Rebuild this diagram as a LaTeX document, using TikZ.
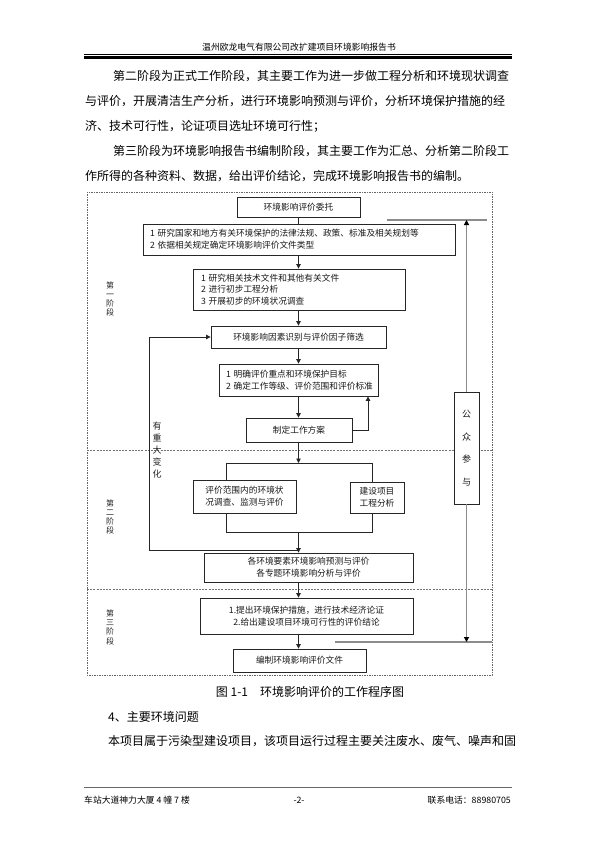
\documentclass[tikz,border=0pt]{standalone}
\usepackage{fontspec}
\setmainfont{Noto Sans CJK SC}
\usetikzlibrary{arrows.meta,shadows}
\newcommand{\fsz}[2]{\fontsize{#1}{#2}\selectfont}
\begin{document}
\begin{tikzpicture}[x=1pt,y=-1pt,
  bx/.style={draw=black!85,line width=0.8pt,fill=white,inner sep=0pt,font=\fsz{8.7}{11.8},text=black!90,
    drop shadow={shadow xshift=0.8pt,shadow yshift=-0.8pt,fill=black!40,opacity=1}},
  body/.style={anchor=west,inner sep=0pt,font=\fsz{12}{14}},
  conn/.style={draw=black!85,line width=0.8pt},
  arr/.style={conn,-{Triangle[length=4.5pt,width=4.5pt]}},
  publine/.style={draw=black!45,line width=1.3pt},
  pubarr/.style={publine,-{Triangle[length=5pt,width=5pt,color=black]}},
  stage/.style={inner sep=0pt,font=\fsz{8}{9.3},align=center,text=black!85},
  sep/.style={draw=black!55,line width=0.5pt,dash pattern=on 2pt off 1.2pt},
]
\useasboundingbox (0,0) rectangle (595,842);
\fill[white] (0,0) rectangle (595,842);

% header
\node[inner sep=0pt,font=\fsz{8.8}{10}] (hdr) at (299,47) {温州欧龙电气有限公司改扩建项目环境影响报告书};
\draw[line width=0.6pt] (84,54.3) -- (512,54.3);
\draw[line width=2.4pt] (84,57.6) -- (512,57.6);

% body text
\node[body] (p1) at (113,76.5) {第二阶段为正式工作阶段，其主要工作为进一步做工程分析和环境现状调查};
\node[body] (p2) at (85,101.5) {与评价，开展清洁生产分析，进行环境影响预测与评价，分析环境保护措施的经};
\node[body] (p3) at (85,126.5) {济、技术可行性，论证项目选址环境可行性；};
\node[body] (p4) at (113,151.5) {第三阶段为环境影响报告书编制阶段，其主要工作为汇总、分析第二阶段工};
\node[body] (p5) at (85,176) {作所得的各种资料、数据，给出评价结论，完成环境影响报告书的编制。};

% frame and stage separators
\draw[draw=black!60,line width=0.6pt,dash pattern=on 1.5pt off 1pt] (87,192) rectangle (492,675);
\draw[sep] (87,450) -- (492,450);
\draw[sep] (87,589) -- (492,589);

% stage labels
\node[stage] (s1) at (110,299) {第\\一\\阶\\段};
\node[stage] (s2) at (110,517) {第\\二\\阶\\段};
\node[stage] (s3) at (110,627) {第\\三\\阶\\段};

% boxes
\coordinate (ax) at (298.5,0);
\node[bx,minimum width=123pt,minimum height=20pt] (b1) at (298.5,207) {环境影响评价委托};
\node[bx,minimum height=31pt,text width=298pt,inner xsep=7pt,align=left] (b2) at (299,239.5)
  {1~研究国家和地方有关环境保护的法律法规、政策、标准及相关规划等\\2~依据相关规定确定环境影响评价文件类型};
\node[bx,minimum height=41pt,text width=196pt,inner xsep=8pt,align=left] (b3) at (299,289.5)
  {1~研究相关技术文件和其他有关文件\\2~进行初步工程分析\\3~开展初步的环境状况调查};
\node[bx,minimum width=175pt,minimum height=22pt] (b4) at (298.5,337) {环境影响因素识别与评价因子筛选};
\node[bx,minimum height=32pt,text width=145pt,inner xsep=7pt,align=left] (b5) at (298.5,380)
  {1~明确评价重点和环境保护目标\\2~确定工作等级、评价范围和评价标准};
\node[bx,minimum width=106pt,minimum height=24pt] (b6) at (299,430) {制定工作方案};
\node[bx,minimum width=103pt,minimum height=33pt,align=center] (b7) at (244.5,496.5)
  {评价范围内的环境状\\况调查、监测与评价};
\node[bx,minimum width=54pt,minimum height=31pt,align=center] (b8) at (377,497.5) {建设项目\\工程分析};
\node[bx,minimum width=209pt,minimum height=29pt,align=center] (b9) at (308.5,567.5)
  {各环境要素环境影响预测与评价\\各专题环境影响分析与评价};
\node[bx,minimum width=213pt,minimum height=36pt,align=center] (b10) at (306.5,616)
  {1.提出环境保护措施，进行技术经济论证\\2.给出建设项目环境可行性的评价结论};
\node[bx,minimum width=133pt,minimum height=23pt] (b11) at (299.5,660.5) {编制环境影响评价文件};
\node[bx,minimum width=25pt,minimum height=112pt,align=center,font=\fsz{9}{22.5}] (pub) at (466.5,448)
  {公\\众\\参\\与};

% connectors
\draw[conn] (b1.south) -- (b1.south |- b2.north);
\draw[arr] (b2.south -| ax) -- (b3.north -| ax);
\draw[arr] (b3.south -| ax) -- (b4.north -| ax);
\draw[arr] (b4.south -| ax) -- (b5.north -| ax);
\draw[arr] (b5.south -| ax) -- (b6.north -| ax);
\coordinate (r6) at (368,430);
\draw[arr] (b6.east) -- (r6) -- (r6 |- b5.south);
\coordinate (split) at (298.5,463);
\coordinate (spl) at (226,463);
\coordinate (spr) at (372,463);
\draw[arr] (b6.south -| ax) -- (split);
\draw[conn] (spl) -- (spr);
\draw[conn] (spl) -- (spl |- b7.north);
\draw[conn] (spr) -- (spr |- b8.north);
\coordinate (ml) at (226,532);
\coordinate (mr) at (372,532);
\coordinate (merge) at (298.5,532);
\draw[conn] (ml |- b7.south) -- (ml) -- (mr) -- (mr |- b8.south);
\draw[arr] (merge) -- (b9.north -| ax);
\coordinate (fb) at (298.5,550);
\coordinate (fbl) at (149,550);
\draw[arr] (fb) -- (fbl) |- (b4.west);
\node[inner sep=0pt,font=\fsz{9}{12},align=center,text=black!85] (chg) at (157,450) {有\\重\\大\\变\\化};
\draw[arr] (b9.south -| ax) -- (b10.north -| ax);
\draw[arr] (b10.south -| ax) -- (b11.north -| ax);

% public participation lines
\coordinate (tl) at (387,220);
\coordinate (tr) at (487,220);
\coordinate (bl) at (335,642);
\coordinate (br) at (492,642);
\draw[publine] (tl) -- (tr);
\draw[publine] (bl) -- (br);
\draw[pubarr] (pub.north) -- (pub.north |- tl);
\draw[pubarr] (pub.south) -- (pub.south |- bl);

% caption and following text
\node[inner sep=0pt,font=\fsz{12}{14}] (cap) at (310,692) {图 1-1\hspace{1em}环境影响评价的工作程序图};
\node[body] (h4) at (108,717) {4、主要环境问题};
\node[body] (p6) at (108,741) {本项目属于污染型建设项目，该项目运行过程主要关注废水、废气、噪声和固};

% footer
\draw[draw=black!60,line width=0.9pt] (84,787) -- (512,787);
\node[inner sep=0pt,anchor=west,font=\fsz{8.8}{10}] (f1) at (84,800) {车站大道神力大厦 4 幢 7 楼};
\node[inner sep=0pt,font=\fsz{8.8}{10}] (f2) at (299,800) {-2-};
\node[inner sep=0pt,anchor=east,font=\fsz{8.8}{10}] (f3) at (511,800) {联系电话：88980705};
\end{tikzpicture}
\end{document}
